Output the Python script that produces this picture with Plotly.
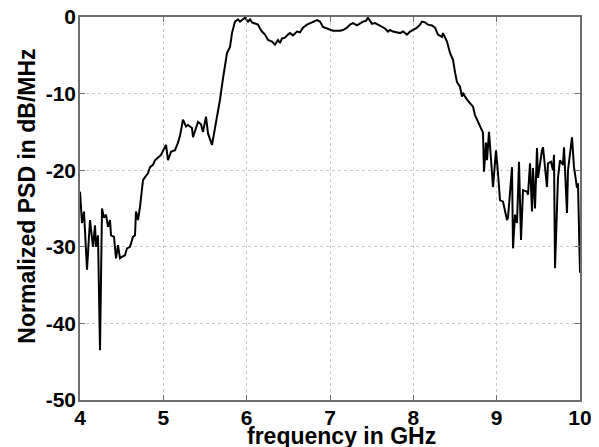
import plotly.graph_objects as go

freq_ghz = [
    4.000, 4.012, 4.024, 4.048, 4.060, 4.084, 4.120, 4.156, 4.180, 4.192,
    4.216, 4.240, 4.264, 4.288, 4.312, 4.336, 4.360, 4.372, 4.408, 4.432,
    4.456, 4.480, 4.504, 4.540, 4.564, 4.600, 4.636, 4.660, 4.672, 4.696,
    4.720, 4.756, 4.780, 4.816, 4.840, 4.876, 4.900, 4.936, 4.972, 5.032,
    5.056, 5.092, 5.140, 5.176,
    5.200, 5.236, 5.272, 5.296, 5.344, 5.356, 5.392, 5.416, 5.452, 5.476,
    5.512, 5.536, 5.584, 5.620, 5.644, 5.680, 5.716, 5.764, 5.800, 5.824,
    5.860, 5.896, 5.920, 5.944, 5.980, 6.016, 6.040, 6.064, 6.100, 6.136,
    6.160, 6.184, 6.220, 6.256, 6.304, 6.340, 6.376, 6.400, 6.424, 6.460,
    6.496, 6.520, 6.556, 6.604, 6.640, 6.676, 6.724, 6.760, 6.796, 6.844,
    6.880, 6.916, 6.964, 7.000, 7.036, 7.084, 7.120, 7.156, 7.204, 7.240,
    7.276, 7.324, 7.360, 7.396, 7.432, 7.456, 7.504, 7.540, 7.576, 7.624,
    7.660, 7.696, 7.720, 7.756, 7.804, 7.840, 7.876, 7.924, 7.960, 7.996,
    8.044, 8.080, 8.104, 8.140, 8.176, 8.224, 8.260, 8.296, 8.344, 8.356,
    8.404, 8.440, 8.476, 8.500, 8.524, 8.560, 8.584, 8.596, 8.632, 8.668,
    8.716, 8.740, 8.764, 8.800, 8.836, 8.848, 8.872, 8.884, 8.908, 8.956,
    8.992, 9.016, 9.040, 9.076, 9.124, 9.136, 9.184, 9.196, 9.220, 9.244,
    9.268, 9.292, 9.316, 9.364, 9.376, 9.400, 9.424, 9.436, 9.460, 9.484,
    9.496, 9.544, 9.556, 9.604, 9.616, 9.652, 9.676, 9.688, 9.700, 9.736,
    9.760, 9.796, 9.808, 9.844, 9.856, 9.904, 9.928, 9.964, 9.976, 10.000,
]

psd_db = [
    -22.8, -25.2, -26.9, -25.4, -27.8, -33.0, -26.5, -30.0, -27.2, -30.0,
    -28.5, -43.5, -25.0, -26.2, -25.8, -27.4, -26.5, -28.5, -28.7, -31.5,
    -29.8, -31.5, -31.3, -31.1, -30.2, -30.0, -28.7, -28.5, -25.4, -26.5,
    -24.8, -21.3, -20.9, -20.4, -19.6, -19.3, -18.7, -18.4, -18.0, -16.7,
    -18.7, -17.6, -17.4, -16.4,
    -15.5, -13.4, -14.3, -14.1, -14.5, -15.7, -14.5, -13.7, -14.0, -15.0,
    -13.0, -15.2, -16.7, -14.5, -12.5, -10.8, -8.0, -4.7, -3.9, -2.1,
    -0.6, -0.3, -0.6, -0.4, -0.1, -0.6, -0.3, -0.7, -0.8, -1.0,
    -1.5, -1.9, -2.3, -3.0, -3.2, -3.6, -3.0, -3.4, -2.8, -2.7,
    -2.3, -2.1, -2.4, -1.9, -2.0, -1.4, -1.0, -0.8, -0.6, -0.4,
    -0.6, -1.3, -1.5, -1.7, -1.8, -1.8, -1.8, -1.7, -1.4, -1.0,
    -0.8, -1.1, -0.8, -0.6, -0.5, -0.1, -0.9, -0.8, -1.0, -1.3,
    -1.5, -1.9, -1.7, -1.9, -2.0, -2.1, -1.9, -2.3, -1.9, -1.7,
    -1.4, -1.0, -0.6, -0.7, -1.0, -1.1, -1.4, -2.3, -2.6, -2.1,
    -3.2, -4.7, -5.6, -7.2, -8.5, -9.1, -10.4, -9.9, -10.6, -11.1,
    -11.7, -12.8, -13.4, -14.3, -15.1, -20.2, -16.4, -18.7, -15.0, -22.2,
    -17.4, -20.4, -23.9, -24.1, -26.5, -26.2, -19.6, -30.2, -25.8, -26.9,
    -18.9, -29.1, -22.6, -22.8, -23.2, -19.1, -25.4, -19.7, -25.0, -17.1,
    -21.0, -17.4, -17.0, -22.2, -19.1, -18.9, -20.0, -18.0, -32.8, -21.0,
    -18.7, -19.3, -17.0, -25.6, -20.0, -15.7, -19.6, -22.3, -21.7, -33.4,
]

x_ticks = [4, 5, 6, 7, 8, 9, 10]
y_ticks = [-50, -40, -30, -20, -10, 0]
x_title = "frequency in GHz"
y_title = "Normalized PSD in dB/MHz"

font_family = "Liberation Sans, Arial, Helvetica, sans-serif"

fig = go.Figure()
fig.add_trace(go.Scatter(
    x=freq_ghz, y=psd_db, mode="lines",
    line=dict(color="black", width=2),
    showlegend=False,
))

axis_common = dict(
    showline=True, linecolor="#6e6e6e", linewidth=1.5, mirror="ticks",
    ticks="inside", ticklen=5, tickwidth=1, tickcolor="#6e6e6e",
    showgrid=True, gridcolor="#c8c8c8", gridwidth=1, griddash="dot",
    zeroline=False, automargin=False, ticklabeloverflow="allow",
    tickfont=dict(family=font_family, size=21, color="black", weight="bold"),
)

fig.update_layout(
    width=599, height=447,
    margin=dict(l=72, r=27, t=9, b=55),
    paper_bgcolor="white", plot_bgcolor="white",
    font=dict(family=font_family, color="black"),
    xaxis=dict(
        range=[4, 10], tickvals=x_ticks, ticktext=[str(v) for v in x_ticks],
        ticklabelstandoff=-2,
        **axis_common,
    ),
    yaxis=dict(
        range=[-50, 0], tickvals=y_ticks, ticktext=[str(v) for v in y_ticks],
        ticklabelstandoff=-2,
        **axis_common,
    ),
    annotations=[
        dict(text=f"<b>{x_title}</b>", xref="paper", yref="paper",
             x=0.523, y=-0.093, xanchor="center", yanchor="middle",
             showarrow=False,
             font=dict(family=font_family, size=23, color="black")),
        dict(text=f"<b>{y_title}</b>", xref="paper", yref="paper",
             x=-0.106, y=0.531, xanchor="center", yanchor="middle",
             textangle=-90, showarrow=False,
             font=dict(family=font_family, size=23, color="black")),
    ],
)

fig.write_html("out.html")
